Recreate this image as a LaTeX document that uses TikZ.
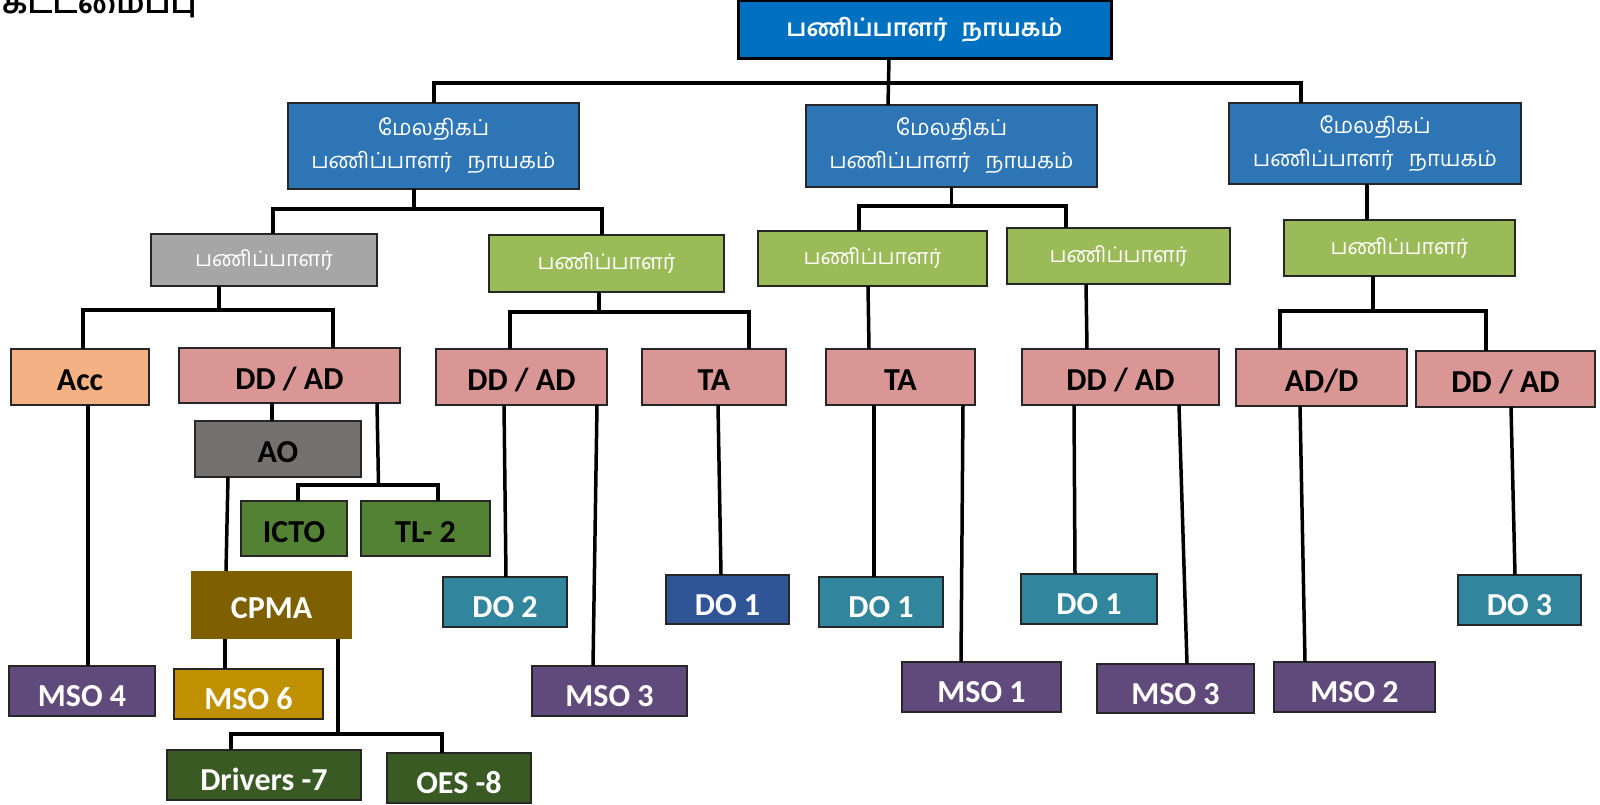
\documentclass[tikz,border=0pt]{standalone}
\usepackage{fontspec}
\setmainfont{Carlito}
\newfontfamily\tam[Script=Tamil]{Hind Madurai}
\definecolor{topblue}{HTML}{0070C0}
\definecolor{midblue}{HTML}{2E75B6}
\definecolor{lgray}{HTML}{A6A6A6}
\definecolor{lgreen}{HTML}{9BBB59}
\definecolor{accor}{HTML}{F4B183}
\definecolor{pinkb}{HTML}{DA9694}
\definecolor{aogray}{HTML}{767171}
\definecolor{dgreen}{HTML}{548235}
\definecolor{cpmab}{HTML}{7F6000}
\definecolor{msop}{HTML}{604A7B}
\definecolor{mso6b}{HTML}{BF9000}
\definecolor{drvg}{HTML}{3A5A24}
\definecolor{dot}{HTML}{31859C}
\definecolor{dob}{HTML}{2F5597}
\tikzset{
  box/.style={draw=black!85, line width=1.2pt, inner sep=0pt, outer sep=0pt, align=center},
  conn/.style={line width=3.5pt, black},
  upper/.style={font=\fontsize{32}{34}\selectfont\bfseries, text height=27pt, text depth=0pt},
  lower/.style={font=\fontsize{32}{34}\selectfont\bfseries, text height=31pt, text depth=0pt, text=white},
  tamtop/.style={font=\tam\bfseries\fontsize{24}{28}\selectfont, text=white},
  tammid/.style={font=\tam\fontsize{22}{33}\selectfont, text=white},
  tamlow/.style={font=\tam\fontsize{21.5}{26}\selectfont, text=white},
}
\begin{document}
\begin{tikzpicture}[x=1pt,y=-1pt]
\useasboundingbox (0,0) rectangle (1600,805);
\clip (0,0) rectangle (1600,805);
% title
\node[anchor=base west, font=\tam\bfseries\fontsize{31}{33}\selectfont, inner sep=0pt] (title) at (2,14) {கட்டமைப்பு};
% level 1
\node[box, line width=3pt, draw=black, fill=topblue, minimum width=373pt, minimum height=58pt, tamtop] (top) at (924.5,30) {பணிப்பாளர்\hspace{0.6em}நாயகம்};
% level 2
\node[box, fill=midblue, minimum width=291pt, minimum height=86pt, tammid] (L2a) at (433.5,146) {மேலதிகப்\\பணிப்பாளர்\hspace{0.7em}நாயகம்};
\node[box, fill=midblue, minimum width=291pt, minimum height=82pt, tammid] (L2b) at (951.5,146) {மேலதிகப்\\பணிப்பாளர்\hspace{0.7em}நாயகம்};
\node[box, fill=midblue, minimum width=292pt, minimum height=81pt, tammid] (L2c) at (1375,143.5) {மேலதிகப்\\பணிப்பாளர்\hspace{0.7em}நாயகம்};
% level 3
\node[box, fill=lgray, minimum width=226pt, minimum height=52pt, tamlow] (gr) at (264,260) {பணிப்பாளர்};
\node[box, fill=lgreen, minimum width=235pt, minimum height=57pt, tamlow] (g1) at (606.5,263.5) {பணிப்பாளர்};
\node[box, fill=lgreen, minimum width=229pt, minimum height=55pt, tamlow] (g2) at (872.5,258.5) {பணிப்பாளர்};
\node[box, fill=lgreen, minimum width=223pt, minimum height=56pt, tamlow] (g3) at (1118.5,256) {பணிப்பாளர்};
\node[box, fill=lgreen, minimum width=231pt, minimum height=56pt, tamlow] (g4) at (1399.5,248) {பணிப்பாளர்};
% level 4
\node[box, fill=accor, minimum width=138pt, minimum height=56pt, upper] (Acc) at (80,377) {Acc};
\node[box, fill=pinkb, minimum width=221pt, minimum height=55pt, upper] (DDAD1) at (289.5,375.5) {DD / AD};
\node[box, fill=pinkb, minimum width=171pt, minimum height=56pt, upper] (DDAD2) at (521.5,377) {DD / AD};
\node[box, fill=pinkb, minimum width=144pt, minimum height=56pt, upper] (TA1) at (714,377) {TA};
\node[box, fill=pinkb, minimum width=149pt, minimum height=56pt, upper] (TA2) at (900.5,377) {TA};
\node[box, fill=pinkb, minimum width=197pt, minimum height=56pt, upper] (DDAD3) at (1120.5,377) {DD / AD};
\node[box, fill=pinkb, minimum width=171pt, minimum height=57pt, upper] (ADD) at (1321.5,377.5) {AD/D};
\node[box, fill=pinkb, minimum width=179pt, minimum height=56pt, upper] (DDAD4) at (1505.5,379) {DD / AD};
% under DD/AD 1
\node[box, fill=aogray, minimum width=166pt, minimum height=56pt, upper] (AO) at (278,449) {AO};
\node[box, fill=dgreen, minimum width=106pt, minimum height=55pt, upper] (ICTO) at (294,528.5) {ICTO};
\node[box, fill=dgreen, minimum width=129pt, minimum height=55pt, upper] (TL2) at (425.5,528.5) {TL- 2};
\node[box, draw=none, fill=cpmab, minimum width=161pt, minimum height=68pt, upper, text=white] (CPMA) at (271.5,605) {CPMA};
\node[box, fill=msop, minimum width=146pt, minimum height=50pt, lower] (MSO4) at (82,691) {MSO 4};
\node[box, fill=mso6b, minimum width=149pt, minimum height=50pt, lower] (MSO6) at (248.5,694) {MSO 6};
\node[box, fill=drvg, minimum width=194pt, minimum height=50pt, lower] (Drv) at (264,775) {Drivers -7};
\node[box, fill=drvg, minimum width=144pt, minimum height=50pt, lower] (OES) at (459,778) {OES -8};
% others
\node[box, fill=dot, minimum width=124pt, minimum height=50pt, lower] (DO2) at (505,602) {DO 2};
\node[box, fill=msop, minimum width=155pt, minimum height=50pt, lower] (MSO3a) at (609.5,691) {MSO 3};
\node[box, fill=dob, minimum width=123pt, minimum height=49pt, lower] (DO1a) at (727.5,599.5) {DO 1};
\node[box, fill=dot, minimum width=124pt, minimum height=50pt, lower] (DO1b) at (881,602) {DO 1};
\node[box, fill=msop, minimum width=159pt, minimum height=50pt, lower] (MSO1) at (981.5,687) {MSO 1};
\node[box, fill=dot, minimum width=136pt, minimum height=50pt, lower] (DO1c) at (1089,599) {DO 1};
\node[box, fill=msop, minimum width=157pt, minimum height=49pt, lower] (MSO3b) at (1175.5,688.5) {MSO 3};
\node[box, fill=msop, minimum width=161pt, minimum height=50pt, lower] (MSO2) at (1354.5,687) {MSO 2};
\node[box, fill=dot, minimum width=123pt, minimum height=50pt, lower] (DO3) at (1519.5,600) {DO 3};
% connectors
\draw[conn] ([xshift=-35.5pt]top.south) -- ([xshift=-63.5pt]L2b.north);
\draw[conn] ([xshift=0.5pt]L2a.north) -- ++(0,-20) -| ([xshift=-74pt]L2c.north);
\draw[conn] ([xshift=-19.5pt]L2a.south) -- ++(0,20);
\draw[conn] ([xshift=9pt]gr.north) -- ++(0,-25) -| ([xshift=-4.5pt]g1.north);
\draw[conn] (L2b.south) -- ++(0,19);
\draw[conn] ([xshift=-13.5pt]g2.north) -- ++(0,-25) -| ([xshift=-52.5pt]g3.north);
\draw[conn] ([xshift=-8pt]L2c.south) -- ([xshift=-32.5pt]g4.north);
\draw[conn] ([xshift=-45pt]gr.south) -- ++(0,24);
\draw[conn] ([xshift=3pt]Acc.north) -- ++(0,-39) -| ([xshift=43.5pt]DDAD1.north);
\draw[conn] ([xshift=-7.5pt]g1.south) -- ++(0,20);
\draw[conn] ([xshift=-11.5pt]DDAD2.north) -- ++(0,-37) -| ([xshift=35pt]TA1.north);
\draw[conn] ([xshift=-4.5pt]g2.south) -- ([xshift=-31.5pt]TA2.north);
\draw[conn] ([xshift=-32.5pt]g3.south) -- ([xshift=-33.5pt]DDAD3.north);
\draw[conn] ([xshift=-26.5pt]g4.south) -- ++(0,35);
\draw[conn] ([xshift=-41.5pt]ADD.north) -- ++(0,-38) -| ([xshift=-19.5pt]DDAD4.north);
\draw[conn] ([xshift=8pt]Acc.south) -- ([xshift=6pt]MSO4.north);
\draw[conn] ([xshift=-17.5pt]DDAD1.south) -- ([xshift=-6pt]AO.north);
\draw[conn] ([xshift=87.5pt]DDAD1.south) -- ++(1.5,82);
\draw[conn] ([xshift=4pt]ICTO.north) -- ++(0,-16) -| ([xshift=12.5pt]TL2.north);
\draw[conn] ([xshift=-50pt]AO.south) -- ([xshift=-45.5pt]CPMA.north);
\draw[conn] ([xshift=-46.5pt]CPMA.south) -- ([xshift=-23.5pt]MSO6.north);
\draw[conn] ([xshift=66.5pt]CPMA.south) -- ++(0,95);
\draw[conn] ([xshift=-33pt]Drv.north) -- ++(0,-16) -| ([xshift=-17pt]OES.north);
\draw[conn] ([xshift=-17.5pt]DDAD2.south) -- ([xshift=1pt]DO2.north);
\draw[conn] ([xshift=75.5pt]DDAD2.south) -- ([xshift=-16.5pt]MSO3a.north);
\draw[conn] ([xshift=4pt]TA1.south) -- ([xshift=-6.5pt]DO1a.north);
\draw[conn] ([xshift=-26.5pt]TA2.south) -- ([xshift=-7pt]DO1b.north);
\draw[conn] ([xshift=62.5pt]TA2.south) -- ([xshift=-20.5pt]MSO1.north);
\draw[conn] ([xshift=-46.5pt]DDAD3.south) -- ([xshift=-14pt]DO1c.north);
\draw[conn] ([xshift=58.5pt]DDAD3.south) -- ([xshift=11.5pt]MSO3b.north);
\draw[conn] ([xshift=-21.5pt]ADD.south) -- ([xshift=-49.5pt]MSO2.north);
\draw[conn] ([xshift=5.5pt]DDAD4.south) -- ([xshift=-4.5pt]DO3.north);
\end{tikzpicture}
\end{document}
